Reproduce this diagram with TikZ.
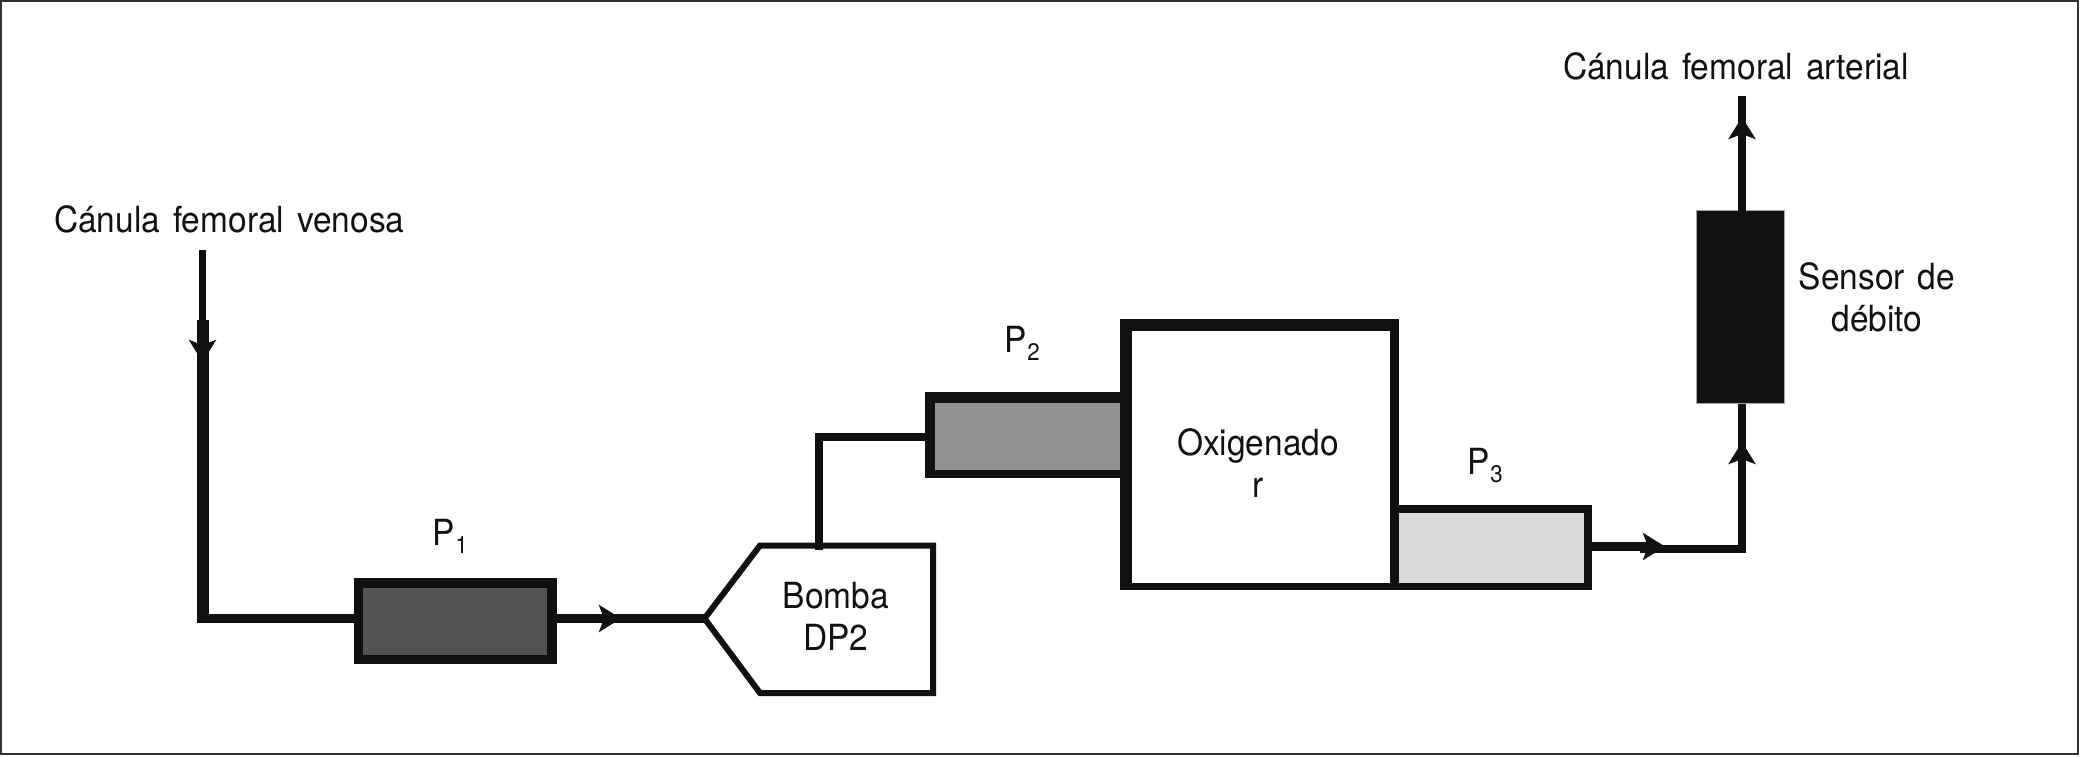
\documentclass[tikz,border=0pt]{standalone}
\usepackage{fontspec}
\setmainfont[FakeStretch=0.93,WordSpace={1.4}]{TeX Gyre Heros}
\usetikzlibrary{arrows.meta}
\definecolor{ink}{HTML}{111111}
\newcommand{\Psub}[1]{P\kern1pt\raisebox{-8pt}{\fontsize{24}{24}\selectfont #1}}
\tikzset{
  x=1pt,y=-1pt,
  pipe/.style={draw=ink,line width=8pt},
  wpipe/.style={draw=ink,line width=9pt},
  headed/.style={-{Stealth[length=22pt,width=27pt,inset=5pt,color=ink]}},
  txt/.style={inner sep=0pt,outer sep=0pt,text=ink,font=\fontsize{36}{42}\selectfont},
  block/.style={rectangle,inner sep=0pt,outer sep=0pt,anchor=north west},
  outerbox/.style={block,fill=ink},
}
\begin{document}
\begin{tikzpicture}
\useasboundingbox (0,0) rectangle (2080,757);
\node[block,draw=black!80,line width=2.5pt,minimum width=2077pt,minimum height=753pt] (frame) at (1,1) {};

% connector coordinates
\coordinate (vtop) at (202.5,250);
\coordinate (vjoin) at (202.5,320);
\coordinate (vbase) at (202.5,342);
\coordinate (vtip) at (202.5,362);
\coordinate (vcorner) at (202.5,618.5);
\coordinate (a1base) at (598,618.5);
\coordinate (a1tip) at (621,618.5);
\coordinate (ptip) at (704.5,618.5);
\coordinate (ptl) at (760,545.5);
\coordinate (ptr) at (933,545.5);
\coordinate (pbr) at (933,693);
\coordinate (pbl) at (760,693);
\coordinate (pout) at (818.5,550);
\coordinate (pup) at (818.5,437);
\coordinate (a3base) at (1640,546.5);
\coordinate (a3tip) at (1665,546.5);
\coordinate (a3join) at (1655,549);
\coordinate (scorner) at (1742,549);
\coordinate (a4base) at (1742,464);
\coordinate (a4tip) at (1742,442);
\coordinate (a5base) at (1742,138);
\coordinate (a5tip) at (1742,117);
\coordinate (atop) at (1742,96.5);

% oxygenator
\node[outerbox,minimum width=279pt,minimum height=271pt] (ox) at (1120,319) {};
\node[block,fill=white,minimum width=258pt,minimum height=252pt] (oxin) at (1132,331) {};
\node[txt,anchor=base,align=center] (oxt) at (1258,497) {Oxigenado\\r};

% pressure ports
\node[outerbox,minimum width=203pt,minimum height=86pt] (p1) at (353.5,577.5) {};
\node[block,fill=black!68,minimum width=184pt,minimum height=67pt] (p1in) at (363,588) {};
\node[outerbox,minimum width=195pt,minimum height=86pt] (p2) at (925,392) {};
\node[block,fill=black!43,minimum width=185pt,minimum height=67pt] (p2in) at (935,403) {};
\node[outerbox,minimum width=193pt,minimum height=85pt] (p3) at (1399,505) {};
\node[block,fill=black!15,minimum width=185pt,minimum height=69.5pt] (p3in) at (1399,513) {};

% sensor
\node[block,fill=ink,draw=black!35,line width=1.5pt,minimum width=88pt,minimum height=193pt] (sensor) at (1696.5,210.5) {};

% pump
\draw[draw=ink,line width=6pt,fill=white,line join=miter] (ptip) -- (ptl) -- (ptr) -- (pbr) -- (pbl) -- cycle;
\node[txt,anchor=base,align=center] (pump) at (836,650) {Bomba\\DP2};

% connectors
\draw[draw=ink,line width=7pt] (vtop) -- (vjoin);
\draw[draw=ink,line width=12pt] (vjoin) -- ([yshift=-4.5pt]vcorner);
\draw[draw=ink,line width=12pt,headed] (vbase) -- (vtip);
\draw[wpipe] ([xshift=-6pt]vcorner) -- (p1.west |- vcorner);
\draw[wpipe] (p1.east |- vcorner) -- (ptip);
\draw[wpipe,headed] (a1base) -- (a1tip);
\draw[pipe,line join=miter] (pout) -- (pup) -- (p2.west |- pup);
\draw[wpipe] (p3.east |- a3tip) -- (a3join |- a3tip);
\draw[pipe,headed] (a3base) -- (a3tip);
\draw[pipe,line join=miter] (a3base |- scorner) -- (scorner) -- (scorner |- sensor.south);
\draw[pipe,headed] (a4base) -- (a4tip);
\draw[pipe] (scorner |- sensor.north) -- (atop);
\draw[pipe,headed] (a5base) -- (a5tip);

% labels
\node[txt,anchor=base west] (venosa) at (54,232.5) {Cánula femoral venosa};
\node[txt,anchor=base west] (arterial) at (1563,80) {Cánula femoral arterial};
\node[txt,anchor=base,align=center] (sens) at (1877,331) {Sensor de\\débito};
\node[txt,anchor=base west] (lp1) at (432,545) {\Psub{1}};
\node[txt,anchor=base west] (lp2) at (1004,352) {\Psub{2}};
\node[txt,anchor=base west] (lp3) at (1467,474) {\Psub{3}};
\end{tikzpicture}
\end{document}
